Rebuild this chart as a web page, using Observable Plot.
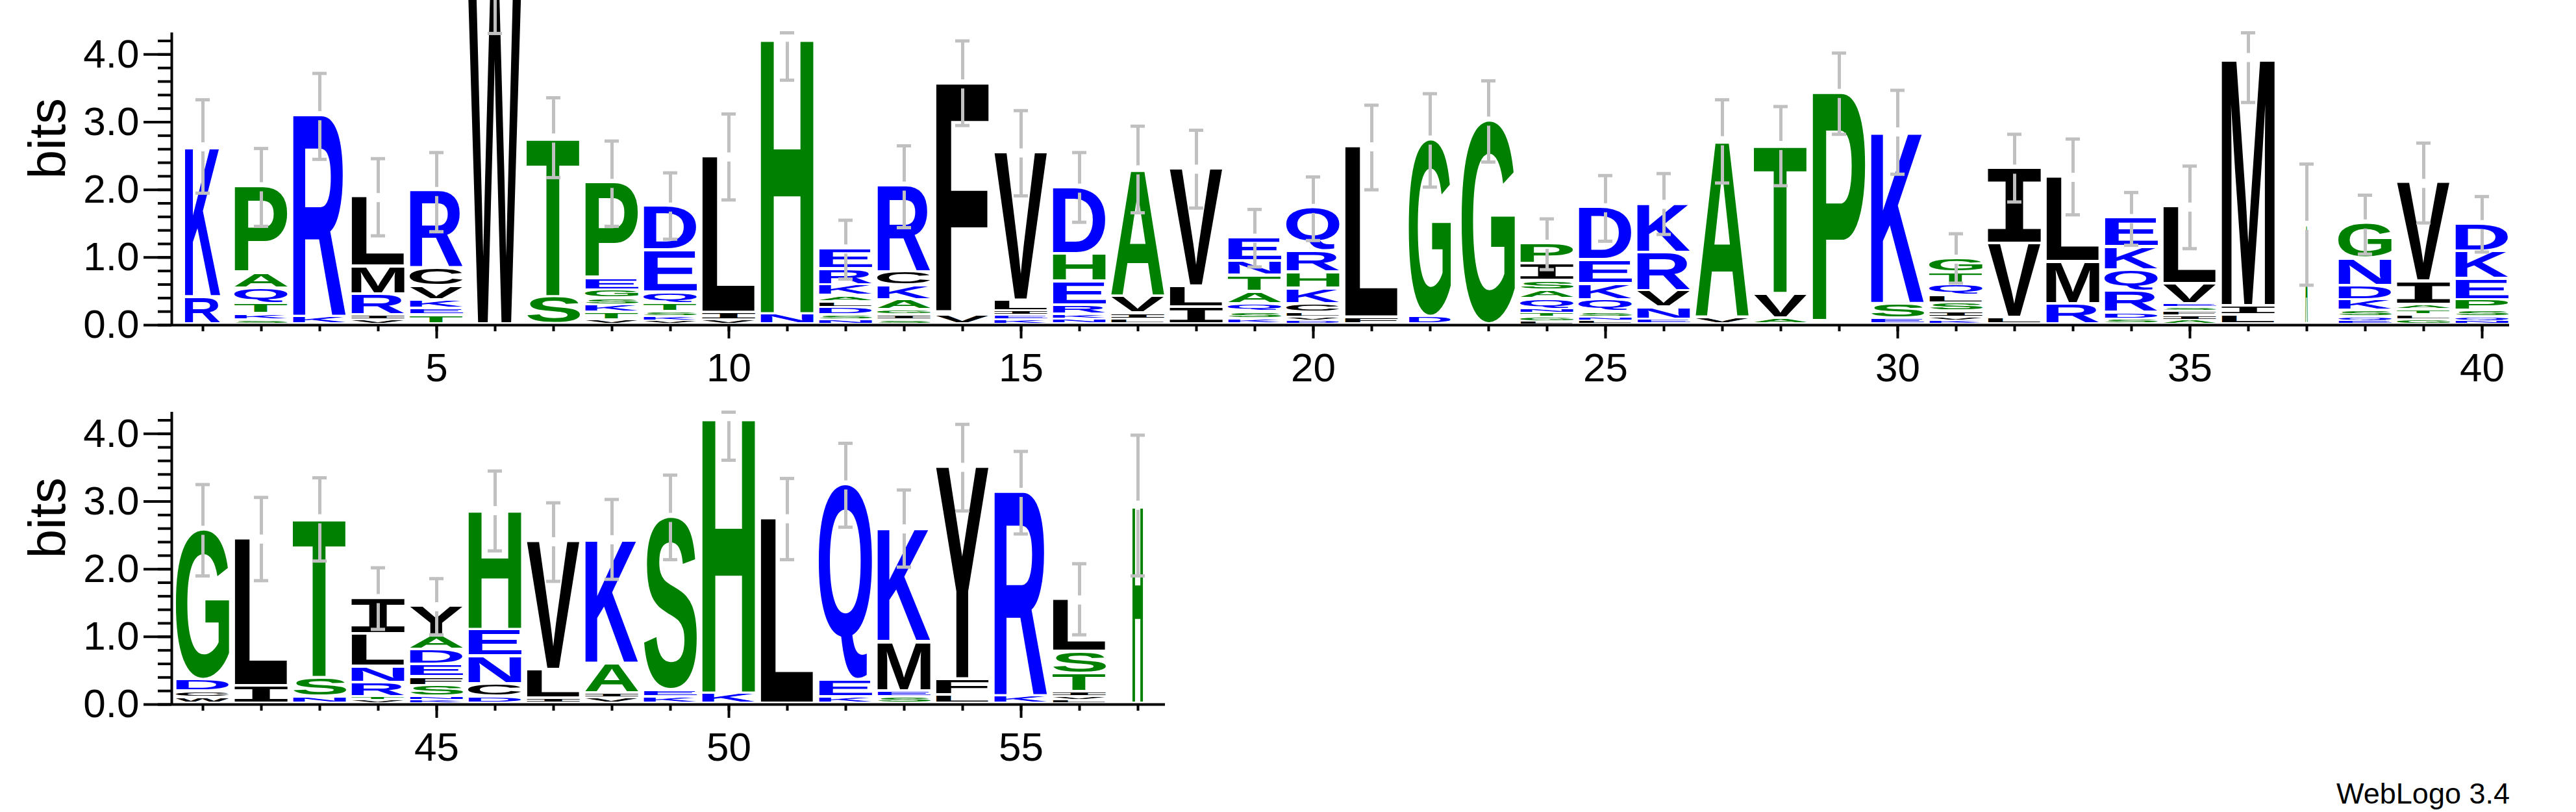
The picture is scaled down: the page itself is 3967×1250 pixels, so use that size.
<!DOCTYPE html>
<html><head><meta charset="utf-8">
<script src="https://cdn.jsdelivr.net/npm/d3@7"></script>
<script src="https://cdn.jsdelivr.net/npm/@observablehq/plot@0.6"></script>
<style>
html,body{margin:0;padding:0;background:#fff;}
#wrap{position:relative;width:3967px;height:1250px;overflow:hidden;background:#fff;}
#caption{position:absolute;right:102px;top:1199px;font-family:"Liberation Sans",Arial,sans-serif;font-size:45px;line-height:45px;white-space:nowrap;color:#000;}
</style></head>
<body><div id="wrap"></div>
<script>
const positions = d3.range(1, 58);
// letters of each stack, bottom to top
const stackLetters = [
 "RK","SKTQAP","KR","VIRML","TEKVCR","W","ST","VTKSGEP","VKSTQED","VIL",
 "NH","NSDLAKRE","SIGAKCR","VF","KEILV","NKREHD","LIVA","ILV","KSQATNE","DVLCKHRQ",
 "FL","DG","G","LGTNQASIP","LNSQKED","ENVRK","VA","AVT","P","ESK",
 "KVISLQTG","LVI","RML","SDRQKE","AIFSEVL","LIM","A","EQSKDNG","GLTAIV","NQSPEKD",
 "WCDG","IL","NST","VTRNLI","KNSFEDAY","DCNEH","ILV","VIAK","KES","KH",
 "L","KEQ","SEMK","LFY","KR","LVITSL","H"
];
// cumulative top (bits) of each letter of the stack, bottom to top
const stackTops = [
 [0.40,2.63],[0.06,0.15,0.30,0.53,0.75,2.04],[0.11,3.09],[0.06,0.13,0.44,0.85,1.88],[0.13,0.23,0.36,0.56,0.83,1.97],
 [4.95],[0.40,2.76],[0.06,0.17,0.28,0.38,0.50,0.67,2.09],[0.05,0.11,0.18,0.30,0.47,1.09,1.74],[0.06,0.17,2.48],
 [0.15,4.25],[0.06,0.13,0.24,0.33,0.42,0.58,0.82,1.12],[0.06,0.14,0.21,0.36,0.57,0.77,2.05],[0.13,3.56],[0.06,0.13,0.19,0.35,2.54],
 [0.07,0.14,0.28,0.63,1.04,2.02],[0.07,0.16,0.41,2.29],[0.25,0.56,2.30],[0.08,0.18,0.30,0.48,0.72,0.93,1.28],[0.05,0.10,0.17,0.30,0.53,0.77,1.08,1.72],
 [0.10,2.63],[0.11,2.73],[3.01],[0.04,0.10,0.16,0.22,0.37,0.50,0.64,0.89,1.19],[0.05,0.10,0.18,0.36,0.60,0.95,1.73],
 [0.07,0.25,0.49,1.06,1.78],[0.10,2.72],[0.09,0.45,2.65],[3.42],[0.08,0.30,2.85],
 [0.05,0.10,0.19,0.31,0.42,0.59,0.77,0.97],[0.10,1.19,2.30],[0.30,0.92,2.18],[0.07,0.17,0.49,0.80,1.14,1.57],[0.06,0.12,0.19,0.25,0.30,0.60,1.74],
 [0.13,0.27,3.95],[1.47],[0.05,0.10,0.20,0.36,0.57,0.97,1.49],[0.06,0.14,0.21,0.29,0.63,2.09],[0.05,0.10,0.20,0.36,0.67,1.08,1.48],
 [0.09,0.18,0.35,2.57],[0.26,2.44],[0.10,0.38,2.74],[0.05,0.10,0.31,0.55,1.03,1.56],[0.05,0.10,0.26,0.39,0.58,0.80,1.00,1.44],
 [0.10,0.29,0.70,1.09,2.86],[0.08,0.50,2.40],[0.08,0.15,0.59,2.43],[0.10,0.20,2.76],[0.15,4.25],
 [2.74],[0.10,0.34,3.24],[0.10,0.18,0.91,2.59],[0.12,0.36,3.50],[0.11,3.13],[0.05,0.10,0.17,0.44,0.77,1.54],[2.94]
];
const errLow = [
 1.95,1.46,2.45,1.32,1.38,4.31,2.18,1.46,1.27,1.85,
 3.62,0.68,1.44,2.95,1.91,1.52,1.66,1.73,0.86,1.25,
 2.00,2.04,2.41,0.82,1.24,1.34,2.10,2.06,2.82,2.23,
 0.62,1.82,1.63,1.18,1.13,3.29,0.59,1.05,1.51,1.08,
 1.90,1.83,2.12,1.11,1.03,2.27,1.82,1.85,2.14,3.61,
 2.14,2.62,2.03,2.86,2.52,1.03,1.90
];
const errHigh = [
 3.33,2.61,3.72,2.46,2.55,5.60,3.36,2.72,2.25,3.12,
 4.32,1.55,2.65,4.20,3.17,2.55,2.94,2.88,1.71,2.19,
 3.25,3.42,3.61,1.57,2.21,2.24,3.33,3.23,4.02,3.47,
 1.35,2.82,2.75,1.96,2.35,4.32,2.38,1.92,2.69,1.90,
 3.25,3.06,3.35,2.02,1.86,3.45,2.98,3.03,3.39,4.32,
 3.34,3.86,3.17,4.14,3.74,2.08,3.98
];
// relative stack width (fraction of non-gap symbols in the column)
const stackWidth = positions.map(p => ({1:0.67, 22:0.79, 37:0.045, 57:0.2})[p] ?? 1);
const yMajorTicks = [0, 1, 2, 3, 4];
const rowRanges = [[1, 40], [41, 57]];
const caption = "WebLogo 3.4";

// hydrophobicity colour scheme
const groups = ["hydrophilic", "neutral", "hydrophobic"];
const groupMembers = {hydrophilic: "RKDENQ", neutral: "SGHTAP", hydrophobic: "YVMCLFIW"};
const groupColors = ["#0000ff", "#008000", "#000000"];
const groupOf = ch => groups.find(g => groupMembers[g].includes(ch));

// ---- build tables ----
const letterRows = [];
positions.forEach((p, i) => {
  let prev = 0;
  [...stackLetters[i]].forEach((ch, j) => {
    const top = stackTops[i][j];
    letterRows.push({pos: p, ch, y1: prev, y2: top, w: stackWidth[i], group: groupOf(ch)});
    prev = top;
  });
});
const errRows = positions.map((p, i) => ({
  pos: p, low: errLow[i], high: errHigh[i], top: stackTops[i][stackTops[i].length - 1]
}));

// ---- style constants ----
const FONT = '"Liberation Sans", Arial, Helvetica, sans-serif';
const PX_PER_POS = 90, ML = 267, W = 3967, H = 600, MT = 50, MB = 100;
const YMAX = 4.32;
const BIT_PX = (H - MT - MB) / YMAX;
const STACK = 0.915;           // stack width as fraction of a column
const GAP_PX = 4;              // vertical gap below each glyph
const ERR_GAP = 7 / BIT_PX;    // gap of the error bar around the stack top
const CAP = 11 / PX_PER_POS;   // half width of error caps
const GREY = "#c0c0c0";

// glyph ink metrics
const ctx = document.createElement("canvas").getContext("2d");
const metricCache = {};
function glyphFont(ch) { return ch === "I" ? '"DejaVu Sans Mono"' : '"Liberation Sans"'; }
function metrics(ch) {
  if (metricCache[ch]) return metricCache[ch];
  ctx.font = `bold 100px ${glyphFont(ch)}`;
  ctx.textAlign = "left"; ctx.textBaseline = "alphabetic";
  const m = ctx.measureText(ch);
  return metricCache[ch] = {L: m.actualBoundingBoxLeft, R: m.actualBoundingBoxRight, A: m.actualBoundingBoxAscent, D: m.actualBoundingBoxDescent};
}

function makeRow([a, b], topPx) {
  const L = letterRows.filter(d => d.pos >= a && d.pos <= b);
  const E = errRows.filter(d => d.pos >= a && d.pos <= b);
  const xEnd = ML + (b - a + 1) * PX_PER_POS;
  const upper = E.filter(d => d.high > d.top + ERR_GAP);
  const lower = E.filter(d => d.top - ERR_GAP > d.low);
  const chart = Plot.plot({
    width: W, height: H,
    marginLeft: ML, marginRight: W - xEnd, marginTop: MT, marginBottom: MB,
    x: {domain: [a - 0.5, b + 0.5], label: null},
    y: {domain: [0, YMAX], label: null},
    color: {domain: groups, range: groupColors},
    style: {position: "absolute", left: "0px", top: topPx + "px", background: "transparent",
            overflow: "visible", maxWidth: "none", fontFamily: FONT, color: "#000"},
    marks: [
      Plot.rect(L, {x1: d => d.pos - STACK * d.w / 2, x2: d => d.pos + STACK * d.w / 2,
                    y1: "y1", y2: "y2", fill: "group", title: "ch"}),
      Plot.ruleX(upper, {x: "pos", y1: d => d.top + ERR_GAP, y2: "high", stroke: GREY, strokeWidth: 5}),
      Plot.ruleX(lower, {x: "pos", y1: "low", y2: d => d.top - ERR_GAP, stroke: GREY, strokeWidth: 5}),
      Plot.ruleY(E, {y: "low", x1: d => d.pos - CAP, x2: d => d.pos + CAP, stroke: GREY, strokeWidth: 5}),
      Plot.ruleY(E, {y: "high", x1: d => d.pos - CAP, x2: d => d.pos + CAP, stroke: GREY, strokeWidth: 5}),
      Plot.ruleX([a - 0.5], {y1: 0, y2: YMAX, dx: -3, stroke: "#000", strokeWidth: 4}),
      Plot.ruleY([0], {x1: a - 0.5, x2: b + 0.5, dx: -3, stroke: "#000", strokeWidth: 4}),
      Plot.axisY({ticks: d3.range(0, 4.3, 0.2), tickSize: 21, tickFormat: () => "", dx: -3, strokeWidth: 4, label: null}),
      Plot.axisY({ticks: yMajorTicks, tickSize: 43, tickPadding: 7, tickFormat: d3.format(".1f"),
                  fontSize: 62, dx: -3, strokeWidth: 4, label: null}),
      Plot.axisX({ticks: d3.range(a, b + 1), tickSize: 10, tickFormat: () => "", strokeWidth: 4, label: null}),
      Plot.axisX({ticks: d3.range(a, b + 1).filter(v => v % 5 === 0), tickSize: 21, tickPadding: 21,
                  tickFormat: d3.format("d"), fontSize: 62, strokeWidth: 4, label: null}),
      Plot.text(["bits"], {frameAnchor: "left", dx: -193, rotate: -90, fontSize: 80, fontFamily: FONT})
    ]
  });
  // turn each letter slot (rect with a title) into a glyph stretched to the slot
  const NS = "http://www.w3.org/2000/svg";
  Array.from(chart.querySelectorAll("rect")).filter(r => r.querySelector("title")).forEach(r => {
    const ch = r.querySelector("title").textContent;
    const x = +r.getAttribute("x"), y = +r.getAttribute("y");
    const w = +r.getAttribute("width"), h = +r.getAttribute("height");
    const fill = r.getAttribute("fill");
    if (!ch || !(w > 0) || !(h > 0)) { r.remove(); return; }
    const ink = h > 2 * GAP_PX ? h - GAP_PX : h * 0.5;
    const m = metrics(ch);
    const sx = w / (m.L + m.R), sy = ink / (m.A + m.D);
    const txt = document.createElementNS(NS, "text");
    txt.textContent = ch;
    txt.setAttribute("font-family", glyphFont(ch).replace(/"/g, ""));
    txt.setAttribute("font-weight", "bold");
    txt.setAttribute("font-size", "100");
    txt.setAttribute("text-anchor", "start");
    txt.setAttribute("fill", fill);
    txt.setAttribute("transform", `translate(${x + m.L * sx},${y + m.A * sy}) scale(${sx},${sy})`);
    r.replaceWith(txt);
  });
  return chart;
}

const wrap = document.getElementById("wrap");
wrap.append(makeRow(rowRanges[0], 0));
wrap.append(makeRow(rowRanges[1], 583.6));
const cap = document.createElement("div");
cap.id = "caption"; cap.textContent = caption;
wrap.append(cap);
</script>
</body></html>
